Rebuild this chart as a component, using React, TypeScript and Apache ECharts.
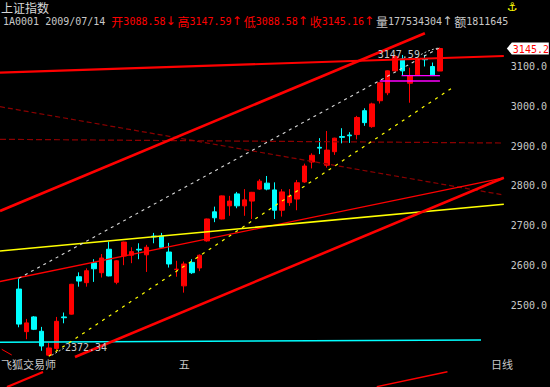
import React, { useEffect, useRef } from 'react';
import * as echarts from 'echarts';

// ---- candle data (daily, 上证指数) ----
const dates = [
  '2009-04-22', '2009-04-23', '2009-04-24', '2009-04-27', '2009-04-28', '2009-04-29', '2009-04-30',
  '2009-05-04', '2009-05-05', '2009-05-06', '2009-05-07', '2009-05-08', '2009-05-11', '2009-05-12',
  '2009-05-13', '2009-05-14', '2009-05-15', '2009-05-18', '2009-05-19', '2009-05-20', '2009-05-21',
  '2009-05-22', '2009-05-25', '2009-05-26', '2009-05-27',
  '2009-06-01', '2009-06-02', '2009-06-03', '2009-06-04', '2009-06-05', '2009-06-08', '2009-06-09',
  '2009-06-10', '2009-06-11', '2009-06-12', '2009-06-15', '2009-06-16', '2009-06-17', '2009-06-18',
  '2009-06-19', '2009-06-22', '2009-06-23', '2009-06-24', '2009-06-25', '2009-06-26', '2009-06-29',
  '2009-06-30',
  '2009-07-01', '2009-07-02', '2009-07-03', '2009-07-06', '2009-07-07', '2009-07-08', '2009-07-09',
  '2009-07-10', '2009-07-13', '2009-07-14',
];
const opens = [
  2541, 2434, 2471, 2435, 2375, 2392, 2471, 2478, 2572, 2557, 2607, 2582, 2641, 2558, 2624, 2626,
  2641, 2627, 2674, 2674, 2634, 2590, 2549, 2608, 2594, 2662, 2735, 2717, 2750, 2780, 2750, 2762,
  2792, 2807, 2790, 2739, 2758, 2767, 2810, 2860, 2897, 2852, 2886, 2924, 2928, 2929, 2989, 2949,
  3014, 3034, 3089, 3119, 3058, 3079, 3119, 3100, 3088.58,
];
const closes = [
  2453, 2456, 2440, 2398, 2393, 2460, 2469, 2553, 2561, 2587, 2592, 2619, 2574, 2612, 2659, 2635,
  2639, 2646, 2672, 2646, 2604, 2591, 2604, 2582, 2626, 2717, 2720, 2775, 2762, 2750, 2765, 2784,
  2812, 2792, 2739, 2785, 2775, 2808, 2850, 2877, 2895, 2890, 2920, 2922, 2926, 2972, 2959, 3006,
  3059, 3089, 3125, 3089, 3077, 3118, 3117, 3079, 3145.16,
];
const lows = [
  2445, 2415, 2438, 2386, 2372.34, 2386, 2455, 2477, 2547, 2547, 2559, 2570, 2573, 2553, 2601, 2606,
  2616, 2584, 2656, 2645, 2595, 2572, 2532, 2579, 2586, 2660, 2709, 2716, 2725, 2744, 2725, 2717,
  2790, 2789, 2717, 2723, 2750, 2739, 2808, 2844, 2880, 2846, 2878, 2907, 2908, 2917, 2951, 2946,
  3007, 3028, 3088, 3077, 3009, 3077, 3100, 3076, 3088.58,
];
const highs = [
  2568, 2466, 2473, 2446, 2406, 2471, 2482, 2554, 2583, 2593, 2616, 2629, 2660, 2614, 2660, 2646,
  2656, 2652, 2682, 2682, 2657, 2612, 2610, 2616, 2628, 2718, 2748, 2776, 2775, 2785, 2792, 2785,
  2817, 2825, 2809, 2792, 2792, 2815, 2856, 2882, 2920, 2938, 2921, 2945, 2935, 2976, 2995, 3009,
  3060, 3090, 3127, 3129, 3097, 3120, 3129, 3110, 3147.59,
];

// header quote
const stockName = '上证指数';
const stockCode = '1A0001';
const quoteDate = '2009/07/14';
const quoteKeys = ['开', '高', '低', '收'];
const quoteArrows = ['↓', '↑', '↑', '↑'];
const volume = '177534304';
const volumeArrow = '↑';
const amount = '1811645';

// axes
const yMin = 2295;
const yMax = 3267;
const yTicks = [2500, 2600, 2700, 2800, 2900, 3000, 3100];
const xTickLabels: Record<string, string> = { '2009-05-25': '五' };
const leadSlots = 2;
const trailSlots = 8;

// drawn trend lines: [candle index, price]
const topLine = [[-2.5, 3084.4], [64.5, 3126.4]];
const upperChannel = [[-2.5, 2737], [54.0, 3183.4]];
const lowerChannel = [[7.47, 2370.4], [64.5, 2820.4]];
const bottomChannel = [[-1.57, 2295], [3.22, 2332.7]];
const thinRedLine = [[-2.5, 2560], [64.5, 2820]];
const yellowLine = [[-2.5, 2636.6], [64.5, 2754.1]];
const highTrend = [[0, 2568], [56, 3147.59]];
const lowTrend = [[4, 2372.34], [57.6, 3046]];
const darkRedFalling = [[-2.5, 2999], [64.5, 2777.2]];
const darkRedFlat = [[-2.5, 2917.1], [64.5, 2907.8]];
const magentaUpper = [[50.9, 3076.9], [56, 3076.9]];
const magentaLower = [[48.0, 3063.6], [56, 3063.6]];
const cyanLine = [[-2.5, 2407.3], [61.46, 2413.1]];
const lowerPaneRed = [[47.6, 2295.8], [57.0, 2333.4]];
const shortRed = [[-2.27, 2389.7], [-0.94, 2375.4]];

const RED = '#ff0000';
const CYAN = '#00ffff';
const GRAY = '#c8c8c8';
const MONO = 'DejaVu Sans Mono';
const CJK = 'Noto Sans CJK SC';

function seg(pts: number[][], color: string, width: number, type: any = 'solid', z = 3) {
  return {
    type: 'line',
    xAxisIndex: 1,
    yAxisIndex: 0,
    data: pts,
    symbol: 'none',
    silent: true,
    z,
    lineStyle: { color, width, type, cap: 'butt' },
    emphasis: { disabled: true },
  };
}

export default function App() {
  const ref = useRef<HTMLDivElement>(null);

  useEffect(() => {
    document.body.style.margin = '0';
    document.body.style.background = '#000';
    if (!ref.current) return;
    const chart = echarts.init(ref.current, undefined, { renderer: 'svg' });

    const categories = [
      ...Array(leadSlots).fill(''),
      ...dates,
      ...Array(trailSlots).fill(''),
    ];
    const candleData = [
      ...Array.from({ length: leadSlots }, () => ['-', '-', '-', '-']),
      ...dates.map((_, i) => [opens[i], closes[i], lows[i], highs[i]]),
    ];

    chart.setOption({
      animation: false,
      backgroundColor: '#000000',
      grid: { left: 0, right: 550 - 67 * 7.52, top: 0, bottom: 0, containLabel: false },
      xAxis: [
        {
          type: 'category',
          data: categories,
          boundaryGap: true,
          axisLine: { show: false },
          axisTick: { show: false },
          splitLine: { show: false },
          axisLabel: {
            interval: 0,
            inside: true,
            margin: 23,
            verticalAlign: 'middle',
            color: GRAY,
            fontFamily: CJK,
            fontSize: 11,
            formatter: (v: string) => xTickLabels[v] ?? '',
          },
        },
        { type: 'value', min: -2.5, max: 64.5, show: false },
      ],
      yAxis: {
        type: 'value',
        position: 'right',
        min: yMin,
        max: yMax,
        splitLine: { show: false },
        axisLine: { show: false },
        axisTick: { show: false },
        axisLabel: {
          customValues: yTicks,
          formatter: (v: number) => v.toFixed(1),
          color: GRAY,
          fontFamily: MONO,
          fontSize: 10,
          margin: 7,
        },
      },
      series: [
        {
          type: 'candlestick',
          xAxisIndex: 0,
          yAxisIndex: 0,
          data: candleData,
          barWidth: 5,
          silent: true,
          z: 2,
          itemStyle: {
            color: RED,
            color0: CYAN,
            borderColor: RED,
            borderColor0: CYAN,
            borderWidth: 1,
          },
        },
        seg(darkRedFalling, '#8b0000', 1.2, [5, 3]),
        seg(darkRedFlat, '#8b0000', 1.2, [6, 3]),
        seg(thinRedLine, RED, 1.3),
        seg(yellowLine, '#ffff00', 1.6),
        seg(cyanLine, CYAN, 1.4),
        seg(highTrend, '#d8d8d8', 1.1, [3, 4]),
        seg(lowTrend, '#ffff00', 1.2, [3, 5]),
        seg(topLine, RED, 2.2),
        seg(upperChannel, RED, 2.6),
        seg(lowerChannel, RED, 2.6),
        seg(bottomChannel, RED, 2.2),
        seg(lowerPaneRed, RED, 1.4),
        seg(shortRed, RED, 1),
        seg(magentaUpper, '#ff00ff', 1.3),
        seg(magentaLower, '#ff00ff', 1.3),
      ],
    });

    const px = (i: number, v: number) =>
      chart.convertToPixel({ xAxisIndex: 1, yAxisIndex: 0 } as any, [i, v]) as number[];

    const last = dates.length - 1;
    const [hx, hy] = px(last, highs[last]);
    let lowIdx = 0;
    lows.forEach((l, i) => { if (l < lows[lowIdx]) lowIdx = i; });
    const [lx, ly] = px(lowIdx, lows[lowIdx]);
    const [, cy] = px(last, closes[last]);
    const [edgeX] = px(64.5, closes[last]);
    const tip = edgeX + 3;

    const qVals = [opens[last], highs[last], lows[last], closes[last]];
    const headerText =
      `{g|${stockCode} ${quoteDate} }` +
      quoteKeys.map((k, i) => `{rc|${k}}{rn|${qVals[i].toFixed(2)}}{ra|${quoteArrows[i]}}`).join('') +
      `{gc|量}{g|${volume}}{ga|${volumeArrow}}{gc|额}{g|${amount}}`;

    const txt = (text: string, x: number, y: number, fill: string, fontSize: number, fontFamily: string, align = 'left', extra: any = {}, vAlign = 'middle') => ({
      type: 'text',
      x,
      y,
      silent: true,
      z: 100,
      style: {
        text, fill, fontSize, fontFamily,
        align, textAlign: align, verticalAlign: vAlign, textVerticalAlign: vAlign,
        ...extra,
      },
    });

    chart.setOption({
      graphic: [
        txt(stockName, 1, 0, '#d8d8d8', 12, CJK, 'left', { lineHeight: 14 }, 'top'),
        txt(headerText, 3, 21, GRAY, 10, MONO, 'left', {
          rich: {
            g: { fill: GRAY, fontSize: 10, fontFamily: MONO },
            gc: { fill: GRAY, fontSize: 12, fontFamily: CJK, width: 12 },
            ga: { fill: GRAY, fontSize: 12, fontFamily: 'DejaVu Sans', width: 12 },
            rc: { fill: RED, fontSize: 12, fontFamily: CJK, width: 12 },
            rn: { fill: RED, fontSize: 10, fontFamily: MONO },
            ra: { fill: RED, fontSize: 12, fontFamily: 'DejaVu Sans', width: 12 },
          },
        }),
        txt('⚓', 512, 7, '#ffff00', 12, 'DejaVu Sans', 'center'),
        // last price tag
        {
          type: 'polygon',
          silent: true,
          z: 100,
          shape: {
            points: [[tip, cy], [tip + 5, cy - 6], [tip + 42, cy - 6], [tip + 42, cy + 6], [tip + 5, cy + 6]],
          },
          style: { fill: '#ffffff' },
        },
        txt(closes[last].toFixed(1), tip + 6, cy + 0.5, RED, 10, MONO),
        // high marker
        txt(highs[last].toFixed(2), hx - 20, hy + 6.5, GRAY, 10, MONO, 'right'),
        {
          type: 'polyline',
          silent: true,
          z: 100,
          shape: { points: [[hx - 19, hy + 7], [hx - 12, hy + 3.5], [hx - 5, hy + 1.2], [hx - 1, hy + 0.3]] },
          style: { stroke: GRAY, lineWidth: 1, lineDash: [2, 2], fill: null },
        },
        // low marker
        txt(lows[lowIdx].toFixed(2), lx + 16, ly - 8.5, GRAY, 10, MONO),
        {
          type: 'line',
          silent: true,
          z: 100,
          shape: { x1: lx + 3, y1: ly - 1, x2: lx + 15, y2: ly - 8 },
          style: { stroke: GRAY, lineWidth: 1, lineDash: [2, 2] },
        },
        // bottom row
        txt('飞狐交易师', 1, 363.5, GRAY, 11, CJK),
        txt('日线', 491, 363.5, GRAY, 11, CJK),
      ],
    });

    return () => chart.dispose();
  }, []);

  return <div ref={ref} style={{ width: 550, height: 387, background: '#000' }} />;
}
